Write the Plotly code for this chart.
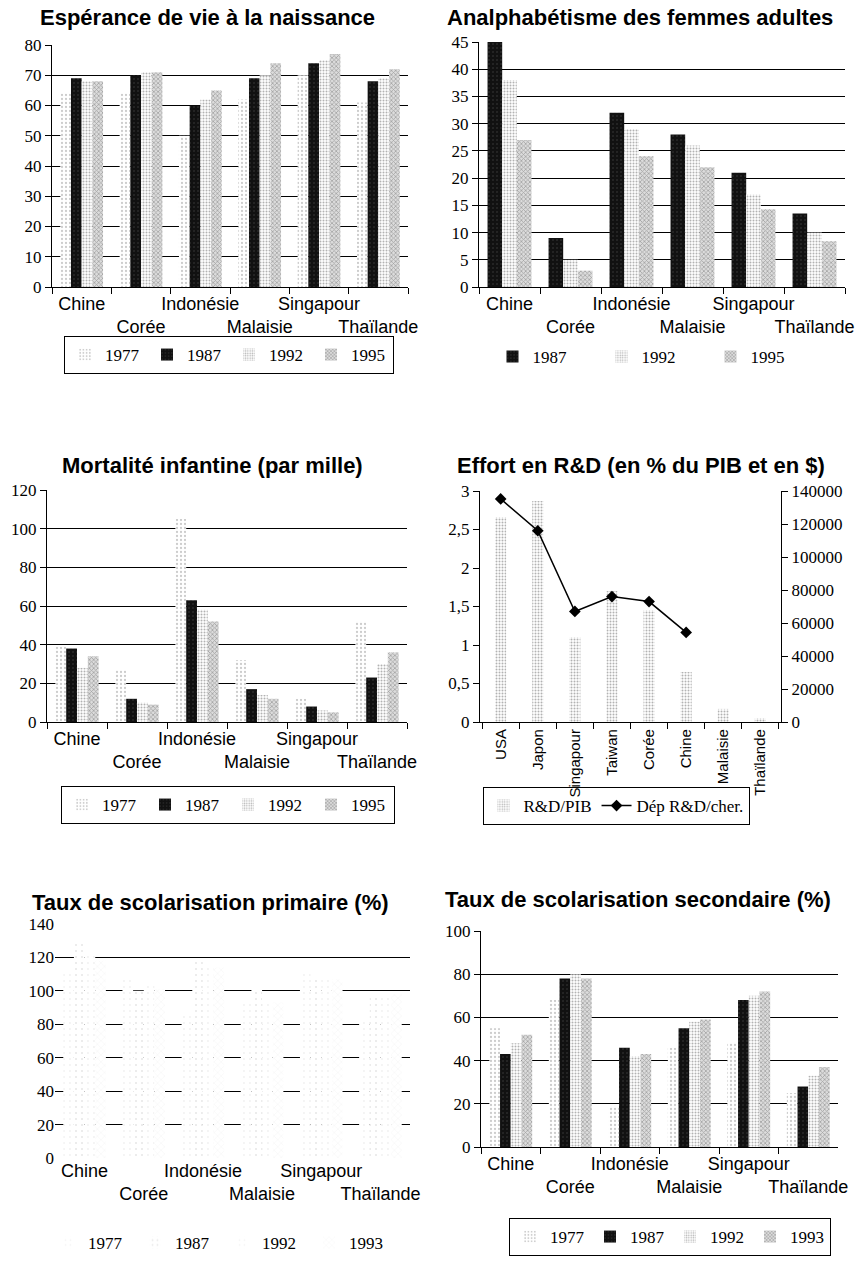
import plotly.graph_objects as go

# ---------------- data ----------------
pays = ["Chine", "Corée", "Indonésie", "Malaisie", "Singapour", "Thaïlande"]
annees_a = ["1977", "1987", "1992", "1995"]
annees_b = ["1987", "1992", "1995"]
annees_c = ["1977", "1987", "1992", "1993"]

vie_1977 = [64, 64, 50, 62, 70, 61]
vie_1987 = [69, 70, 60, 69, 74, 68]
vie_1992 = [68, 71, 62, 70, 75, 69]
vie_1995 = [68, 71, 65, 74, 77, 72]

analph_1987 = [45, 9, 32, 28, 21, 13.5]
analph_1992 = [38, 5, 29, 26, 17, 10]
analph_1995 = [27, 3, 24, 22, 14.3, 8.4]

mort_1977 = [39, 27, 105, 32, 12, 52]
mort_1987 = [38, 12, 63, 17, 8, 23]
mort_1992 = [28, 10, 58, 14, 6, 30]
mort_1995 = [34, 9, 52, 12, 5, 36]

rd_pays = ["USA", "Japon", "Singapour", "Taiwan", "Corée", "Chine", "Malaisie", "Thaïlande"]
rd_pib = [2.66, 2.87, 1.1, 1.7, 1.45, 0.65, 0.17, 0.05]
rd_cher = [135200, 115900, 67000, 76000, 73000, 54300, None, None]

prim_1977 = [112, 107, 86, 93, 111, 83]
prim_1987 = [129, 100, 118, 101, 108, 96]
prim_1992 = [121, 105, 115, 93, 107, 97]
prim_1993 = [118, 101, 114, 93, 107, 98]

sec_1977 = [55, 68, 19, 46, 48, 25]
sec_1987 = [43, 78, 46, 55, 68, 28]
sec_1992 = [48, 80, 42, 58, 70, 33]
sec_1993 = [52, 78, 43, 59, 72, 37]

# ---------------- styles ----------------
W, H = 856, 1278
SANS = "Liberation Sans, Arial, sans-serif"
SERIF = "Liberation Serif, Times New Roman, serif"

style = {
    "1977": dict(color="white", line=dict(width=0),
                 pattern=dict(shape=".", fgcolor="#9a9a9a", bgcolor="white", size=4, solidity=0.25)),
    "1987": dict(color="#111111", line=dict(width=0),
                 pattern=dict(shape=".", fgcolor="#6a6a6a", bgcolor="#111111", size=4, solidity=0.12)),
    "1992": dict(color="white", line=dict(width=0),
                 pattern=dict(shape=".", fgcolor="#666666", bgcolor="white", size=3, solidity=0.35)),
    "1995": dict(color="#d8d8d8", line=dict(width=0),
                 pattern=dict(shape="x", fgcolor="#6a6a6a", bgcolor="#dcdcdc", size=3, solidity=0.45)),
}
style["1993"] = style["1995"]
faint = {
    "1977": dict(color="white", line=dict(width=0),
                 pattern=dict(shape=".", fgcolor="#e2e2e2", bgcolor="white", size=6, solidity=0.08)),
    "1987": dict(color="white", line=dict(width=0),
                 pattern=dict(shape=".", fgcolor="#cfcfcf", bgcolor="white", size=6, solidity=0.1)),
    "1992": dict(color="white", line=dict(width=0),
                 pattern=dict(shape=".", fgcolor="#e2e2e2", bgcolor="white", size=6, solidity=0.08)),
    "1993": dict(color="white", line=dict(width=0),
                 pattern=dict(shape="x", fgcolor="#dadada", bgcolor="white", size=5, solidity=0.1)),
}


def px_x(a, b):
    return [a / W, b / W]


def px_y(top, bottom):
    return [1 - bottom / H, 1 - top / H]


def stagger(labels):
    return [p if i % 2 == 0 else "<br>" + p for i, p in enumerate(labels)]


fig = go.Figure()


def add_group(xa, ya, leg, years, series, sty):
    for yr, vals in zip(years, series):
        fig.add_trace(go.Bar(x=pays, y=vals, name=yr, xaxis=xa, yaxis=ya,
                             legend=leg, marker=sty[yr], hoverinfo="skip"))


add_group("x", "y", "legend", annees_a, [vie_1977, vie_1987, vie_1992, vie_1995], style)
add_group("x2", "y2", "legend2", annees_b, [analph_1987, analph_1992, analph_1995], style)
add_group("x3", "y3", "legend3", annees_a, [mort_1977, mort_1987, mort_1992, mort_1995], style)
add_group("x5", "y5", "legend5", annees_c, [prim_1977, prim_1987, prim_1992, prim_1993], faint)
add_group("x6", "y6", "legend6", annees_c, [sec_1977, sec_1987, sec_1992, sec_1993], style)

fig.add_trace(go.Bar(x=rd_pays, y=rd_pib, name="R&D/PIB", xaxis="x4", yaxis="y4",
                     legend="legend4", width=0.3, marker=style["1992"]))
fig.add_trace(go.Scatter(x=rd_pays, y=rd_cher, name="Dép R&D/cher.", xaxis="x4", yaxis="y7",
                         legend="legend4", mode="lines+markers",
                         line=dict(color="black", width=1.5),
                         marker=dict(symbol="diamond", size=9, color="black")))


def xax(dom, anchor, labels, angle=0, line=True, fs=18):
    return dict(domain=dom, anchor=anchor, type="category",
                tickmode="array", tickvals=labels,
                ticktext=stagger(labels) if angle == 0 else labels,
                tickangle=angle, showline=line, linecolor="black", linewidth=1.2,
                ticks="outside" if line else "", tickson="boundaries", ticklen=6,
                tickcolor="black", showgrid=False, automargin=False,
                tickfont=dict(family=SANS, size=fs, color="black"))


def yax(dom, anchor, rng, dt, grid=True, line=True):
    return dict(domain=dom, anchor=anchor, range=rng, dtick=dt, tick0=0,
                showline=line, linecolor="black", linewidth=1.2,
                ticks="outside" if line else "", ticklen=6, tickcolor="black",
                showgrid=grid, gridcolor="black", gridwidth=1, zeroline=False,
                automargin=False,
                tickfont=dict(family=SERIF, size=17, color="black"))


def leg(xc, yc, border, ew=None):
    d = dict(orientation="h", x=xc / W, y=1 - yc / H, xanchor="center", yanchor="middle",
             font=dict(family=SERIF, size=17, color="black"),
             bgcolor="rgba(0,0,0,0)", bordercolor="black",
             borderwidth=1 if border else 0,
             itemwidth=30, traceorder="normal")
    if ew is not None:
        d.update(entrywidth=ew, entrywidthmode="pixels")
    return d


fig.update_layout(
    width=W, height=H, margin=dict(l=0, r=0, t=0, b=0, autoexpand=False),
    plot_bgcolor="white", paper_bgcolor="white",
    barmode="group", bargap=0.28, bargroupgap=0.0,
    separators=", ",
    xaxis=xax(px_x(52, 408), "y", pays),
    yaxis=yax(px_y(45, 287), "x", [0, 80], 10),
    xaxis2=xax(px_x(479, 845), "y2", pays),
    yaxis2=yax(px_y(42, 287), "x2", [0, 45], 5),
    xaxis3=xax(px_x(47, 407), "y3", pays),
    yaxis3=yax(px_y(490, 722), "x3", [0, 120], 20),
    xaxis4=xax(px_x(480, 781), "y4", rd_pays, angle=-90, fs=15),
    yaxis4=dict(yax(px_y(491, 722), "x4", [0, 3], 0.5, grid=False)),
    yaxis7=dict(overlaying="y4", side="right", anchor="x4", range=[0, 140000], dtick=20000,
                tickformat="d", showline=True, linecolor="black", linewidth=1.2,
                ticks="outside", ticklen=6, tickcolor="black", showgrid=False, zeroline=False,
                automargin=False,
                tickfont=dict(family=SERIF, size=17, color="black")),
    xaxis5=xax(px_x(55, 410), "y5", pays, line=False),
    yaxis5=yax(px_y(924, 1158), "x5", [0, 140], 20, line=False),
    xaxis6=xax(px_x(481, 838), "y6", pays),
    yaxis6=yax(px_y(931, 1147), "x6", [0, 100], 20),
    legend=leg(229, 355, True, 37),
    legend2=leg(656, 357, False, 64),
    legend3=leg(228, 805, True, 38),
    legend4=leg(616, 806, True),
    legend5=leg(222, 1243, False, 42),
    legend6=leg(670, 1237, True, 35),
)

titres = [
    ("Espérance de vie à la naissance", 207, 18),
    ("Analphabétisme des femmes adultes", 640, 18),
    ("Mortalité infantine (par mille)", 212, 465),
    ("Effort en R&D (en % du PIB et en $)", 641, 465),
    ("Taux de scolarisation primaire (%)", 210, 902),
    ("Taux de scolarisation secondaire (%)", 638, 899),
]
for txt, cx, cy in titres:
    fig.add_annotation(text="<b>" + txt + "</b>", xref="paper", yref="paper",
                       x=cx / W, y=1 - cy / H, xanchor="center", yanchor="middle",
                       showarrow=False, font=dict(family=SANS, size=22, color="black"))

fig.write_html("out.html")
